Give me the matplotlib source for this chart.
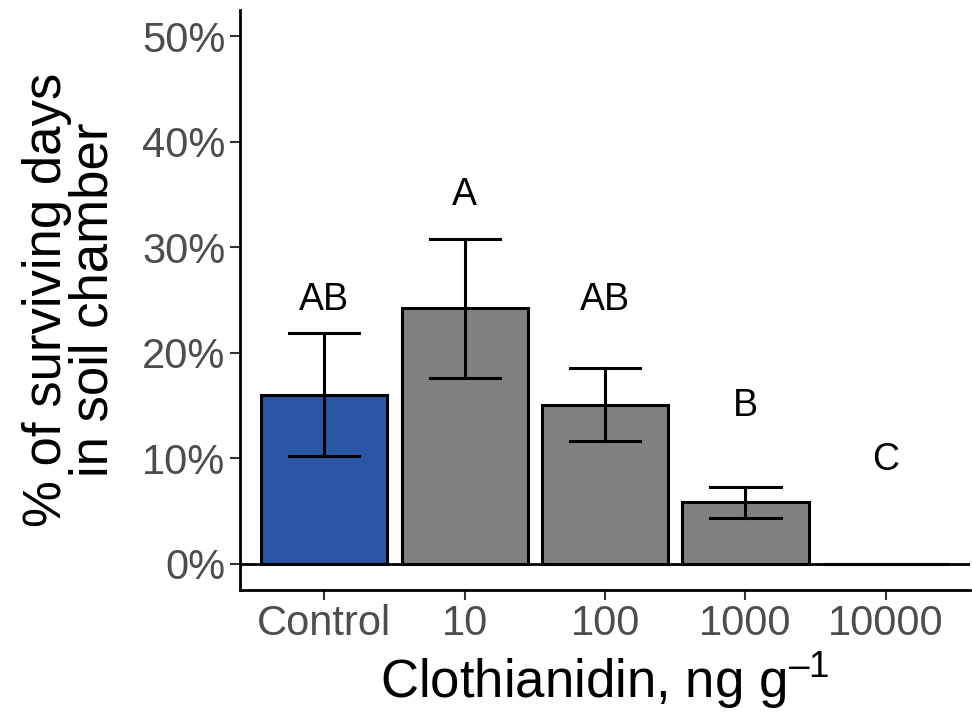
import matplotlib
matplotlib.use("Agg")
import matplotlib.pyplot as plt
import numpy as np

plt.rcParams['font.family'] = ['Liberation Sans', 'DejaVu Sans']
plt.rcParams['mathtext.fontset'] = 'custom'
plt.rcParams['mathtext.rm'] = 'Liberation Sans'

groups = ["Control", "10", "100", "1000", "10000"]
mean_pct = [16.0, 24.2, 15.0, 5.8, 0.0]
err_low = [10.2, 17.6, 11.6, 4.3, 0.0]
err_high = [21.9, 30.8, 18.5, 7.3, 0.0]
letters = ["AB", "A", "AB", "B", "C"]
letter_y = [25.0, 35.0, 25.0, 14.9, 9.8]
fills = ["#2A56A5", "#808080", "#808080", "#808080", "#808080"]

x = np.arange(1, len(groups) + 1)

fig = plt.figure(figsize=(9.72, 7.15), dpi=100)
ax = fig.add_axes([0.247, 0.175, 0.751, 0.811])

ax.bar(x, mean_pct, width=0.9, color=fills, edgecolor="black", linewidth=2.2, zorder=2)
ax.axhline(0, color="black", linewidth=2.0, zorder=3)

# error bars, skip the zero group
for xi, lo, hi in zip(x, err_low, err_high):
    if hi > lo:
        ax.plot([xi, xi], [lo, hi], color="black", lw=2.2, zorder=4)
        ax.plot([xi - 0.25, xi + 0.25], [lo, lo], color="black", lw=2.2, zorder=4)
        ax.plot([xi - 0.25, xi + 0.25], [hi, hi], color="black", lw=2.2, zorder=4)

for xi, t, ty in zip(x, letters, letter_y):
    ax.text(xi, ty, t, ha="center", va="center", fontsize=27, color="black")

ax.set_xlim(0.4, 5.6)
ax.set_ylim(-2.5, 52.5)
ax.set_yticks([0, 10, 20, 30, 40, 50])
ax.set_yticklabels(["0%", "10%", "20%", "30%", "40%", "50%"])
ax.set_xticks(x)
ax.set_xticklabels(groups)

for s in ["top", "right"]:
    ax.spines[s].set_visible(False)
for s in ["left", "bottom"]:
    ax.spines[s].set_linewidth(2.0)
    ax.spines[s].set_color("black")

ax.tick_params(axis="both", labelsize=30, labelcolor="#4D4D4D", color="#333333",
               width=1.5, length=7)

ax.set_xlabel("Clothianidin, ng g$^{\\mathregular{\u20131}}$", fontsize=38, labelpad=4)
ax.set_ylabel("% of surviving days\nin soil chamber", fontsize=38, labelpad=17,
              linespacing=0.92)

fig.savefig("out.png", dpi=100)
